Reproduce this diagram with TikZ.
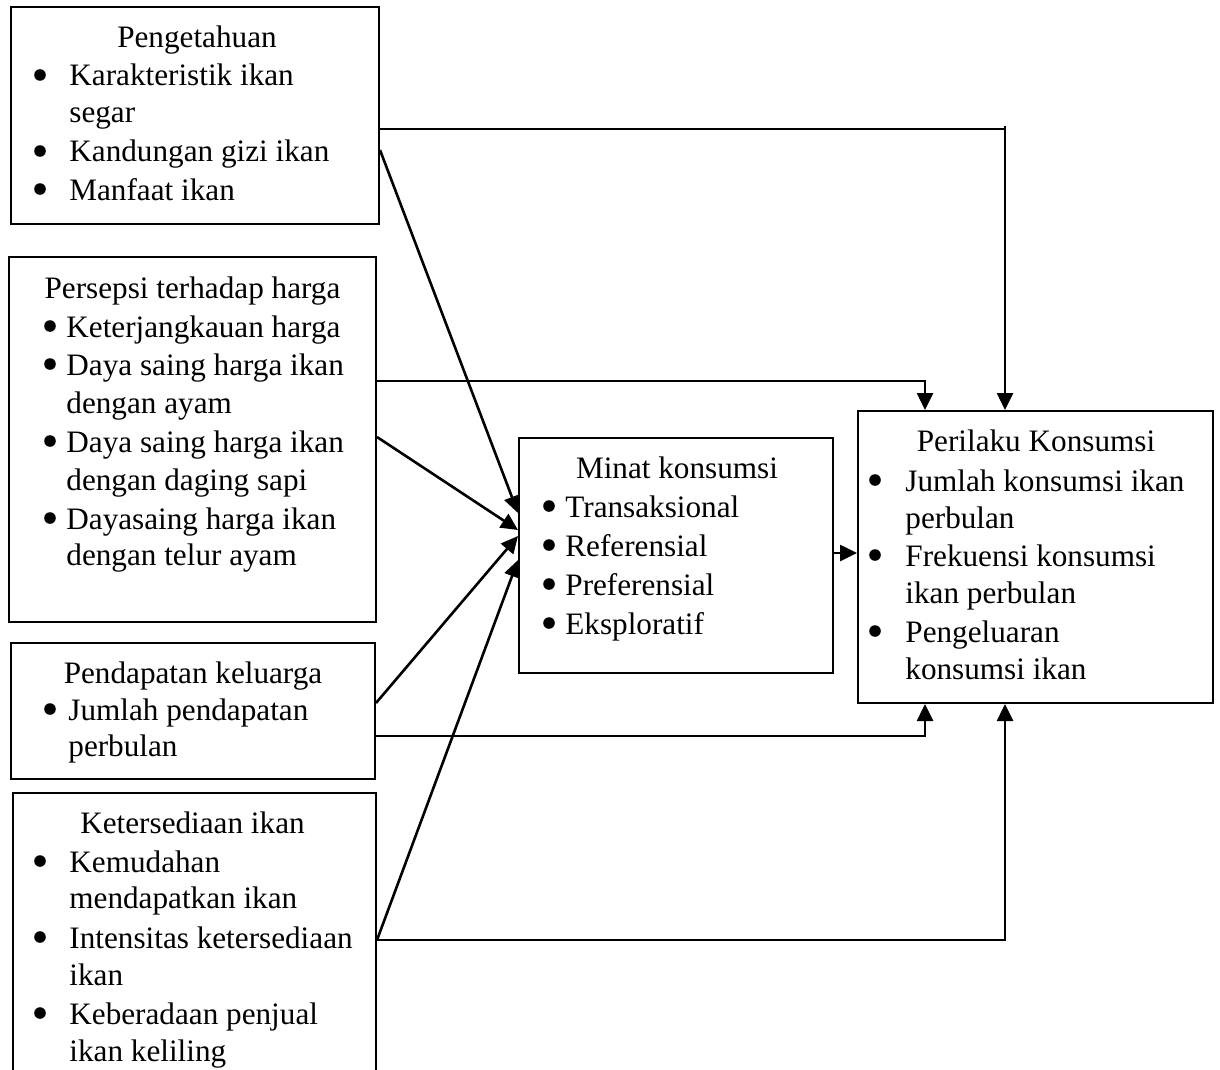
\documentclass[tikz,border=0pt]{standalone}
\usepackage{fontspec}
\setmainfont{Liberation Serif}
\usetikzlibrary{arrows.meta}
\begin{document}
\begin{tikzpicture}[x=0.5pt,y=-0.5pt,
  box/.style={draw,line width=1pt,inner sep=0,rectangle},
  txt/.style={anchor=base west,inner sep=0},
  ttl/.style={anchor=base,inner sep=0},
  bul/.style={circle,fill,inner sep=0,minimum size=5.8pt,yshift=5.5pt},
  ln/.style={line width=1.3pt},
  arr/.style={line width=1.3pt,-{Triangle[length=8.5pt,width=8pt]}},
  font=\fontsize{15.6}{19.5}\selectfont]
\clip (0,0) rectangle (1220,1070);
% boxes
\node[box,minimum width=368*0.5pt,minimum height=217*0.5pt] (peng) at (195,115.5) {};
\node[box,minimum width=367*0.5pt,minimum height=365*0.5pt] (pers) at (192.5,439.5) {};
\node[box,minimum width=364*0.5pt,minimum height=136*0.5pt] (pend) at (193,711) {};
\node[box,minimum width=363*0.5pt,minimum height=297*0.5pt] (keter) at (194.5,941.5) {};
\node[box,minimum width=314*0.5pt,minimum height=235*0.5pt] (minat) at (676,555.5) {};
\node[box,minimum width=355*0.5pt,minimum height=292*0.5pt] (peri) at (1035.5,557) {};
% Pengetahuan
\node[ttl] (t1) at (197,48) {Pengetahuan};
\node[bul] (b11) at (40,86) {};
\node[txt] (t11) at (69,86) {Karakteristik ikan};
\node[txt] (t12) at (69,122) {segar};
\node[bul] (b13) at (40,162) {};
\node[txt] (t13) at (69,162) {Kandungan gizi ikan};
\node[bul] (b14) at (40,200) {};
\node[txt] (t14) at (69,200) {Manfaat ikan};
% Persepsi
\node[ttl] (t2) at (192.5,298) {Persepsi terhadap harga};
\node[bul] (b21) at (50,337) {};
\node[txt] (t21) at (66,337) {Keterjangkauan harga};
\node[bul] (b22) at (50,375) {};
\node[txt] (t22) at (66,375) {Daya saing harga ikan};
\node[txt] (t23) at (66,413) {dengan ayam};
\node[bul] (b24) at (50,452) {};
\node[txt] (t24) at (66,452) {Daya saing harga ikan};
\node[txt] (t25) at (66,490) {dengan daging sapi};
\node[bul] (b26) at (50,529) {};
\node[txt] (t26) at (66,529) {Dayasaing harga ikan};
\node[txt] (t27) at (66,565) {dengan telur ayam};
% Pendapatan
\node[ttl] (t3) at (193,683) {Pendapatan keluarga};
\node[bul] (b31) at (50,720) {};
\node[txt] (t31) at (68,720) {Jumlah pendapatan};
\node[txt] (t32) at (68,756) {perbulan};
% Ketersediaan
\node[ttl] (t4) at (192.5,833) {Ketersediaan ikan};
\node[bul] (b41) at (40,872) {};
\node[txt] (t41) at (69,872) {Kemudahan};
\node[txt] (t42) at (69,908) {mendapatkan ikan};
\node[bul] (b43) at (40,948) {};
\node[txt] (t43) at (69,948) {Intensitas ketersediaan};
\node[txt] (t44) at (69,985) {ikan};
\node[bul] (b45) at (40,1024) {};
\node[txt] (t45) at (69,1024) {Keberadaan penjual};
\node[txt] (t46) at (69,1061) {ikan keliling};
% Minat
\node[ttl] (t5) at (677,478) {Minat konsumsi};
\node[bul] (b51) at (549,517) {};
\node[txt] (t51) at (565,517) {Transaksional};
\node[bul] (b52) at (549,556) {};
\node[txt] (t52) at (565,556) {Referensial};
\node[bul] (b53) at (549,595) {};
\node[txt] (t53) at (565,595) {Preferensial};
\node[bul] (b54) at (549,634) {};
\node[txt] (t54) at (565,634) {Eksploratif};
% Perilaku
\node[ttl] (t6) at (1036,451) {Perilaku Konsumsi};
\node[bul] (b61) at (875,491) {};
\node[txt] (t61) at (905,491) {Jumlah konsumsi ikan};
\node[txt] (t62) at (905,528) {perbulan};
\node[bul] (b63) at (875,566) {};
\node[txt] (t63) at (905,566) {Frekuensi konsumsi};
\node[txt] (t64) at (905,603) {ikan perbulan};
\node[bul] (b65) at (875,642) {};
\node[txt] (t65) at (905,642) {Pengeluaran};
\node[txt] (t66) at (905,679) {konsumsi ikan};
% connectors to Minat
\draw[arr] (peng.east |- 0,150) -- (minat.west |- 0,513);
\draw[arr] (pers.east |- 0,437) -- (minat.west |- 0,530);
\draw[arr] (pend.east |- 0,703) -- (minat.west |- 0,536);
\draw[arr] (keter.east |- 0,940) -- (minat.west |- 0,560);
% connectors to Perilaku
\coordinate (c1) at (1005,126);
\draw[ln] (peng.east |- 0,129) -- (c1 |- 0,129);
\draw[arr] (c1) -- (peri.north -| c1);
\draw[arr] (pers.east |- 0,381) -| (peri.north -| 925,0);
\draw[arr] (pend.east |- 0,736) -| (peri.south -| 925,0);
\draw[arr] (keter.east |- 0,940) -| (peri.south -| 1005,0);
\draw[arr] (minat.east |- 0,553) -- (peri.west |- 0,553);
\end{tikzpicture}
\end{document}
